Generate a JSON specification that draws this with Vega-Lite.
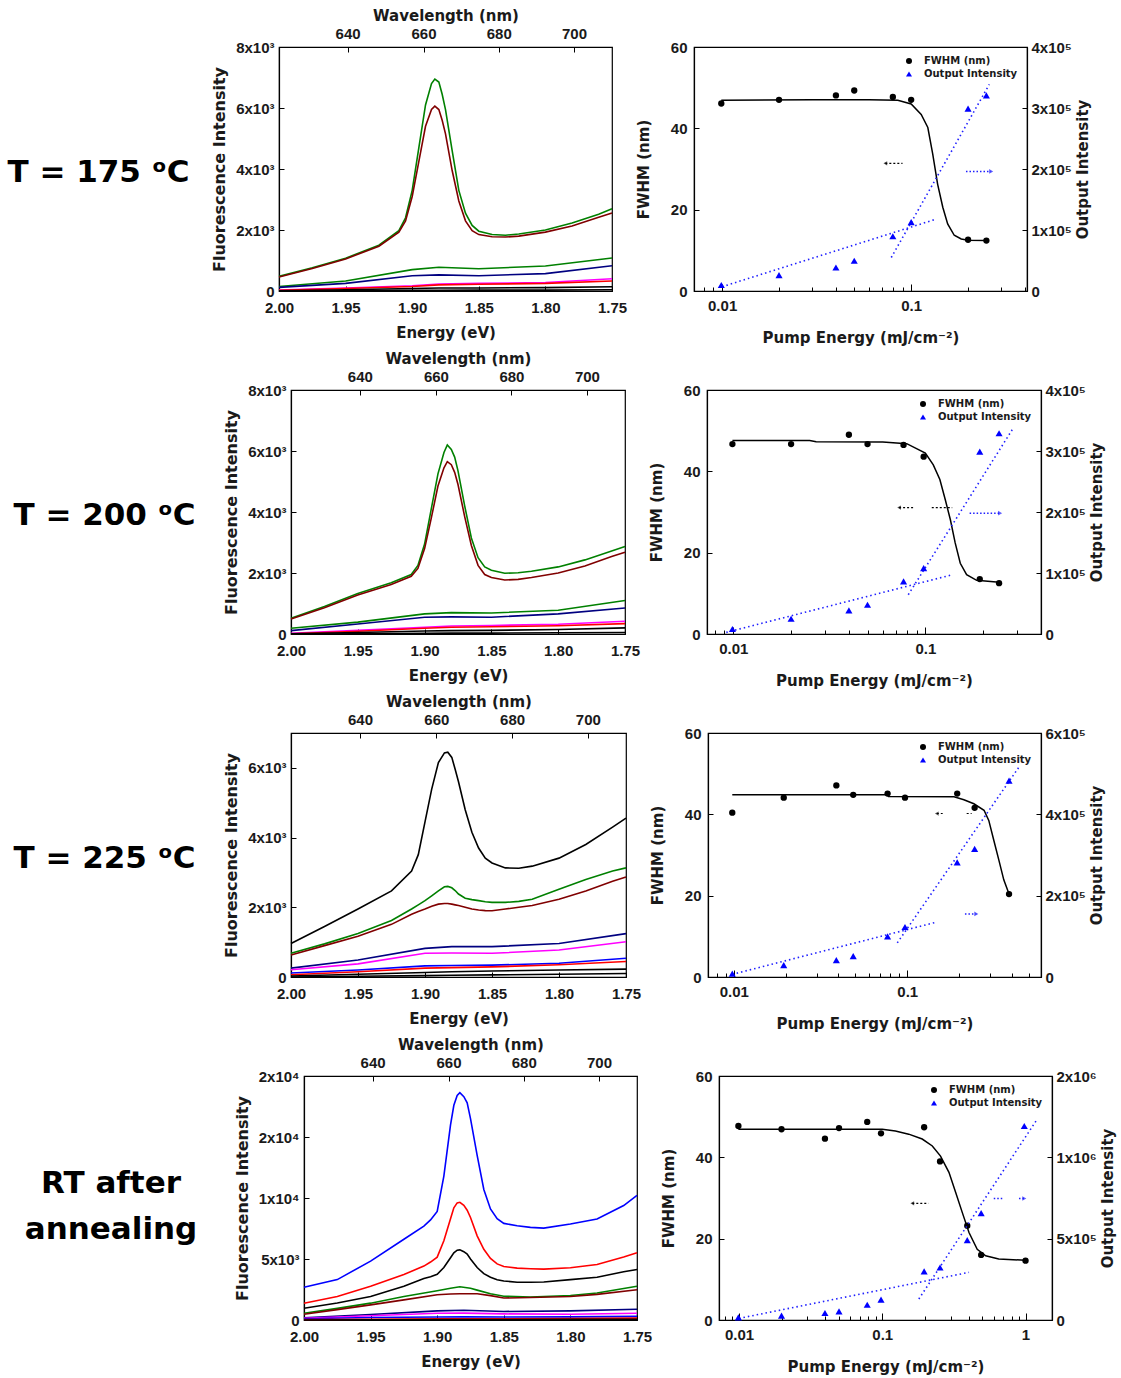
{
 "$schema": "https://vega.github.io/schema/vega-lite/v6.json",
 "padding": {"left": 0, "top": 7, "right": 0, "bottom": 0},
 "background": "white",
 "spacing": 4,
 "resolve": {"scale": {"color": "independent", "shape": "independent"}},
 "datasets": {
  "s1": [
   {"c":"g1","E":2.0,"I":480},{"c":"g1","E":1.975,"I":760},{"c":"g1","E":1.95,"I":1075},{"c":"g1","E":1.925,"I":1500},{"c":"g1","E":1.91,"I":1980},{"c":"g1","E":1.905,"I":2400},{"c":"g1","E":1.9,"I":3300},{"c":"g1","E":1.895,"I":4700},{"c":"g1","E":1.89,"I":6100},{"c":"g1","E":1.8855,"I":6800},{"c":"g1","E":1.883,"I":6950},{"c":"g1","E":1.88,"I":6850},{"c":"g1","E":1.8775,"I":6450},{"c":"g1","E":1.875,"I":5950},{"c":"g1","E":1.87,"I":4600},{"c":"g1","E":1.865,"I":3300},{"c":"g1","E":1.86,"I":2550},{"c":"g1","E":1.855,"I":2150},{"c":"g1","E":1.85,"I":1960},{"c":"g1","E":1.84,"I":1850},{"c":"g1","E":1.83,"I":1830},{"c":"g1","E":1.82,"I":1870},{"c":"g1","E":1.8,"I":2000},{"c":"g1","E":1.78,"I":2230},{"c":"g1","E":1.76,"I":2520},{"c":"g1","E":1.75,"I":2700},
   {"c":"w1","E":2.0,"I":460},{"c":"w1","E":1.975,"I":740},{"c":"w1","E":1.95,"I":1050},{"c":"w1","E":1.925,"I":1470},{"c":"w1","E":1.91,"I":1930},{"c":"w1","E":1.905,"I":2300},{"c":"w1","E":1.9,"I":3100},{"c":"w1","E":1.895,"I":4250},{"c":"w1","E":1.89,"I":5400},{"c":"w1","E":1.8855,"I":5950},{"c":"w1","E":1.883,"I":6060},{"c":"w1","E":1.88,"I":5950},{"c":"w1","E":1.8775,"I":5600},{"c":"w1","E":1.875,"I":5150},{"c":"w1","E":1.87,"I":3950},{"c":"w1","E":1.865,"I":2950},{"c":"w1","E":1.86,"I":2300},{"c":"w1","E":1.855,"I":1980},{"c":"w1","E":1.85,"I":1850},{"c":"w1","E":1.84,"I":1780},{"c":"w1","E":1.83,"I":1770},{"c":"w1","E":1.82,"I":1800},{"c":"w1","E":1.8,"I":1930},{"c":"w1","E":1.78,"I":2130},{"c":"w1","E":1.76,"I":2420},{"c":"w1","E":1.75,"I":2560},
   {"c":"g2","E":2.0,"I":150},{"c":"g2","E":1.95,"I":330},{"c":"g2","E":1.9,"I":700},{"c":"g2","E":1.88,"I":780},{"c":"g2","E":1.85,"I":730},{"c":"g2","E":1.8,"I":820},{"c":"g2","E":1.75,"I":1080},
   {"c":"n","E":2.0,"I":120},{"c":"n","E":1.95,"I":250},{"c":"n","E":1.9,"I":500},{"c":"n","E":1.88,"I":530},{"c":"n","E":1.85,"I":500},{"c":"n","E":1.8,"I":570},{"c":"n","E":1.75,"I":830},
   {"c":"m","E":2.0,"I":30},{"c":"m","E":1.95,"I":100},{"c":"m","E":1.9,"I":170},{"c":"m","E":1.88,"I":230},{"c":"m","E":1.85,"I":250},{"c":"m","E":1.8,"I":280},{"c":"m","E":1.75,"I":400},
   {"c":"r","E":2.0,"I":20},{"c":"r","E":1.95,"I":80},{"c":"r","E":1.9,"I":150},{"c":"r","E":1.88,"I":200},{"c":"r","E":1.85,"I":220},{"c":"r","E":1.8,"I":250},{"c":"r","E":1.75,"I":330},
   {"c":"k1","E":2.0,"I":10},{"c":"k1","E":1.95,"I":40},{"c":"k1","E":1.9,"I":80},{"c":"k1","E":1.88,"I":100},{"c":"k1","E":1.85,"I":100},{"c":"k1","E":1.8,"I":110},{"c":"k1","E":1.75,"I":140},
   {"c":"k2","E":2.0,"I":0},{"c":"k2","E":1.95,"I":10},{"c":"k2","E":1.9,"I":20},{"c":"k2","E":1.88,"I":20},{"c":"k2","E":1.85,"I":30},{"c":"k2","E":1.8,"I":30},{"c":"k2","E":1.75,"I":40}
  ],
  "s2": [
   {"c":"g1","E":2.0,"I":520},{"c":"g1","E":1.975,"I":900},{"c":"g1","E":1.95,"I":1330},{"c":"g1","E":1.925,"I":1680},{"c":"g1","E":1.91,"I":1950},{"c":"g1","E":1.905,"I":2250},{"c":"g1","E":1.9,"I":2950},{"c":"g1","E":1.895,"I":4100},{"c":"g1","E":1.89,"I":5250},{"c":"g1","E":1.8855,"I":5950},{"c":"g1","E":1.883,"I":6200},{"c":"g1","E":1.88,"I":6050},{"c":"g1","E":1.8775,"I":5800},{"c":"g1","E":1.875,"I":5350},{"c":"g1","E":1.87,"I":4200},{"c":"g1","E":1.865,"I":3150},{"c":"g1","E":1.86,"I":2500},{"c":"g1","E":1.855,"I":2200},{"c":"g1","E":1.85,"I":2090},{"c":"g1","E":1.84,"I":1990},{"c":"g1","E":1.83,"I":2010},{"c":"g1","E":1.82,"I":2060},{"c":"g1","E":1.8,"I":2200},{"c":"g1","E":1.78,"I":2430},{"c":"g1","E":1.76,"I":2720},{"c":"g1","E":1.75,"I":2870},
   {"c":"w1","E":2.0,"I":490},{"c":"w1","E":1.975,"I":860},{"c":"w1","E":1.95,"I":1280},{"c":"w1","E":1.925,"I":1620},{"c":"w1","E":1.91,"I":1890},{"c":"w1","E":1.905,"I":2150},{"c":"w1","E":1.9,"I":2800},{"c":"w1","E":1.895,"I":3800},{"c":"w1","E":1.89,"I":4850},{"c":"w1","E":1.8855,"I":5450},{"c":"w1","E":1.883,"I":5650},{"c":"w1","E":1.88,"I":5550},{"c":"w1","E":1.8775,"I":5300},{"c":"w1","E":1.875,"I":4900},{"c":"w1","E":1.87,"I":3850},{"c":"w1","E":1.865,"I":2900},{"c":"w1","E":1.86,"I":2250},{"c":"w1","E":1.855,"I":1950},{"c":"w1","E":1.85,"I":1850},{"c":"w1","E":1.84,"I":1770},{"c":"w1","E":1.83,"I":1790},{"c":"w1","E":1.82,"I":1850},{"c":"w1","E":1.8,"I":2000},{"c":"w1","E":1.78,"I":2230},{"c":"w1","E":1.76,"I":2540},{"c":"w1","E":1.75,"I":2680},
   {"c":"g2","E":2.0,"I":190},{"c":"g2","E":1.95,"I":390},{"c":"g2","E":1.9,"I":660},{"c":"g2","E":1.88,"I":700},{"c":"g2","E":1.85,"I":690},{"c":"g2","E":1.8,"I":780},{"c":"g2","E":1.75,"I":1100},
   {"c":"n","E":2.0,"I":110},{"c":"n","E":1.95,"I":330},{"c":"n","E":1.9,"I":550},{"c":"n","E":1.88,"I":560},{"c":"n","E":1.85,"I":550},{"c":"n","E":1.8,"I":660},{"c":"n","E":1.75,"I":850},
   {"c":"m","E":2.0,"I":20},{"c":"m","E":1.95,"I":120},{"c":"m","E":1.9,"I":220},{"c":"m","E":1.88,"I":260},{"c":"m","E":1.85,"I":280},{"c":"m","E":1.8,"I":320},{"c":"m","E":1.75,"I":420},
   {"c":"r","E":2.0,"I":10},{"c":"r","E":1.95,"I":90},{"c":"r","E":1.9,"I":190},{"c":"r","E":1.88,"I":220},{"c":"r","E":1.85,"I":240},{"c":"r","E":1.8,"I":270},{"c":"r","E":1.75,"I":340},
   {"c":"k1","E":2.0,"I":10},{"c":"k1","E":1.95,"I":50},{"c":"k1","E":1.9,"I":100},{"c":"k1","E":1.88,"I":110},{"c":"k1","E":1.85,"I":120},{"c":"k1","E":1.8,"I":150},{"c":"k1","E":1.75,"I":200},
   {"c":"k2","E":2.0,"I":0},{"c":"k2","E":1.95,"I":10},{"c":"k2","E":1.9,"I":20},{"c":"k2","E":1.88,"I":30},{"c":"k2","E":1.85,"I":30},{"c":"k2","E":1.8,"I":40},{"c":"k2","E":1.75,"I":50}
  ],
  "s3": [
   {"c":"kh","E":2.0,"I":960},{"c":"kh","E":1.975,"I":1450},{"c":"kh","E":1.95,"I":1950},{"c":"kh","E":1.925,"I":2470},{"c":"kh","E":1.91,"I":3040},{"c":"kh","E":1.905,"I":3510},{"c":"kh","E":1.9,"I":4450},{"c":"kh","E":1.895,"I":5390},{"c":"kh","E":1.89,"I":6150},{"c":"kh","E":1.8855,"I":6430},{"c":"kh","E":1.883,"I":6450},{"c":"kh","E":1.88,"I":6300},{"c":"kh","E":1.8775,"I":5960},{"c":"kh","E":1.875,"I":5600},{"c":"kh","E":1.87,"I":4800},{"c":"kh","E":1.865,"I":4150},{"c":"kh","E":1.86,"I":3700},{"c":"kh","E":1.855,"I":3410},{"c":"kh","E":1.85,"I":3270},{"c":"kh","E":1.84,"I":3130},{"c":"kh","E":1.83,"I":3120},{"c":"kh","E":1.82,"I":3180},{"c":"kh","E":1.8,"I":3410},{"c":"kh","E":1.78,"I":3800},{"c":"kh","E":1.76,"I":4300},{"c":"kh","E":1.75,"I":4560},
   {"c":"g1","E":2.0,"I":680},{"c":"g1","E":1.975,"I":950},{"c":"g1","E":1.95,"I":1245},{"c":"g1","E":1.925,"I":1620},{"c":"g1","E":1.91,"I":1950},{"c":"g1","E":1.905,"I":2070},{"c":"g1","E":1.9,"I":2190},{"c":"g1","E":1.895,"I":2330},{"c":"g1","E":1.89,"I":2470},{"c":"g1","E":1.8855,"I":2590},{"c":"g1","E":1.883,"I":2600},{"c":"g1","E":1.88,"I":2560},{"c":"g1","E":1.8775,"I":2480},{"c":"g1","E":1.875,"I":2380},{"c":"g1","E":1.87,"I":2260},{"c":"g1","E":1.865,"I":2220},{"c":"g1","E":1.86,"I":2190},{"c":"g1","E":1.855,"I":2160},{"c":"g1","E":1.85,"I":2140},{"c":"g1","E":1.84,"I":2140},{"c":"g1","E":1.83,"I":2170},{"c":"g1","E":1.82,"I":2230},{"c":"g1","E":1.8,"I":2520},{"c":"g1","E":1.78,"I":2800},{"c":"g1","E":1.76,"I":3040},{"c":"g1","E":1.75,"I":3130},
   {"c":"w1","E":2.0,"I":630},{"c":"w1","E":1.975,"I":900},{"c":"w1","E":1.95,"I":1170},{"c":"w1","E":1.925,"I":1510},{"c":"w1","E":1.91,"I":1800},{"c":"w1","E":1.905,"I":1880},{"c":"w1","E":1.9,"I":1950},{"c":"w1","E":1.895,"I":2030},{"c":"w1","E":1.89,"I":2090},{"c":"w1","E":1.8855,"I":2110},{"c":"w1","E":1.883,"I":2110},{"c":"w1","E":1.88,"I":2090},{"c":"w1","E":1.8775,"I":2070},{"c":"w1","E":1.875,"I":2050},{"c":"w1","E":1.87,"I":2000},{"c":"w1","E":1.865,"I":1950},{"c":"w1","E":1.86,"I":1920},{"c":"w1","E":1.855,"I":1905},{"c":"w1","E":1.85,"I":1900},{"c":"w1","E":1.84,"I":1950},{"c":"w1","E":1.83,"I":2000},{"c":"w1","E":1.82,"I":2050},{"c":"w1","E":1.8,"I":2230},{"c":"w1","E":1.78,"I":2470},{"c":"w1","E":1.76,"I":2750},{"c":"w1","E":1.75,"I":2870},
   {"c":"n","E":2.0,"I":255},{"c":"n","E":1.95,"I":490},{"c":"n","E":1.9,"I":820},{"c":"n","E":1.88,"I":870},{"c":"n","E":1.85,"I":870},{"c":"n","E":1.8,"I":960},{"c":"n","E":1.75,"I":1245},
   {"c":"m","E":2.0,"I":207},{"c":"m","E":1.95,"I":377},{"c":"m","E":1.9,"I":680},{"c":"m","E":1.88,"I":690},{"c":"m","E":1.85,"I":680},{"c":"m","E":1.8,"I":773},{"c":"m","E":1.75,"I":1010},
   {"c":"b","E":2.0,"I":113},{"c":"b","E":1.95,"I":200},{"c":"b","E":1.9,"I":320},{"c":"b","E":1.88,"I":330},{"c":"b","E":1.85,"I":340},{"c":"b","E":1.8,"I":396},{"c":"b","E":1.75,"I":537},
   {"c":"r","E":2.0,"I":66},{"c":"r","E":1.95,"I":150},{"c":"r","E":1.9,"I":255},{"c":"r","E":1.88,"I":270},{"c":"r","E":1.85,"I":290},{"c":"r","E":1.8,"I":350},{"c":"r","E":1.75,"I":443},
   {"c":"k1","E":2.0,"I":30},{"c":"k1","E":1.95,"I":80},{"c":"k1","E":1.9,"I":130},{"c":"k1","E":1.88,"I":150},{"c":"k1","E":1.85,"I":170},{"c":"k1","E":1.8,"I":200},{"c":"k1","E":1.75,"I":226},
   {"c":"k2","E":2.0,"I":0},{"c":"k2","E":1.95,"I":20},{"c":"k2","E":1.9,"I":40},{"c":"k2","E":1.88,"I":50},{"c":"k2","E":1.85,"I":60},{"c":"k2","E":1.8,"I":80},{"c":"k2","E":1.75,"I":100}
  ],
  "s4": [
   {"c":"b1","E":2.0,"I":2680},{"c":"b1","E":1.975,"I":3310},{"c":"b1","E":1.95,"I":4830},{"c":"b1","E":1.925,"I":6620},{"c":"b1","E":1.91,"I":7700},{"c":"b1","E":1.905,"I":8200},{"c":"b1","E":1.9,"I":8900},{"c":"b1","E":1.895,"I":11800},{"c":"b1","E":1.89,"I":16000},{"c":"b1","E":1.8875,"I":17600},{"c":"b1","E":1.885,"I":18400},{"c":"b1","E":1.883,"I":18630},{"c":"b1","E":1.88,"I":18300},{"c":"b1","E":1.8775,"I":17800},{"c":"b1","E":1.875,"I":16500},{"c":"b1","E":1.87,"I":13500},{"c":"b1","E":1.865,"I":10700},{"c":"b1","E":1.86,"I":9100},{"c":"b1","E":1.855,"I":8300},{"c":"b1","E":1.85,"I":7920},{"c":"b1","E":1.84,"I":7730},{"c":"b1","E":1.83,"I":7590},{"c":"b1","E":1.82,"I":7530},{"c":"b1","E":1.8,"I":7870},{"c":"b1","E":1.78,"I":8280},{"c":"b1","E":1.76,"I":9380},{"c":"b1","E":1.75,"I":10210},
   {"c":"r1","E":2.0,"I":1380},{"c":"r1","E":1.975,"I":1930},{"c":"r1","E":1.95,"I":2760},{"c":"r1","E":1.925,"I":3730},{"c":"r1","E":1.91,"I":4420},{"c":"r1","E":1.905,"I":4750},{"c":"r1","E":1.9,"I":5150},{"c":"r1","E":1.895,"I":6500},{"c":"r1","E":1.89,"I":8300},{"c":"r1","E":1.8875,"I":9200},{"c":"r1","E":1.885,"I":9600},{"c":"r1","E":1.883,"I":9650},{"c":"r1","E":1.88,"I":9400},{"c":"r1","E":1.8775,"I":9000},{"c":"r1","E":1.875,"I":8400},{"c":"r1","E":1.87,"I":6900},{"c":"r1","E":1.865,"I":5800},{"c":"r1","E":1.86,"I":5050},{"c":"r1","E":1.855,"I":4600},{"c":"r1","E":1.85,"I":4380},{"c":"r1","E":1.84,"I":4250},{"c":"r1","E":1.83,"I":4200},{"c":"r1","E":1.82,"I":4170},{"c":"r1","E":1.8,"I":4280},{"c":"r1","E":1.78,"I":4550},{"c":"r1","E":1.76,"I":5160},{"c":"r1","E":1.75,"I":5520},
   {"c":"k1","E":2.0,"I":970},{"c":"k1","E":1.975,"I":1400},{"c":"k1","E":1.95,"I":1930},{"c":"k1","E":1.925,"I":2760},{"c":"k1","E":1.91,"I":3400},{"c":"k1","E":1.905,"I":3550},{"c":"k1","E":1.9,"I":3750},{"c":"k1","E":1.895,"I":4300},{"c":"k1","E":1.89,"I":5100},{"c":"k1","E":1.8875,"I":5500},{"c":"k1","E":1.885,"I":5720},{"c":"k1","E":1.883,"I":5750},{"c":"k1","E":1.88,"I":5600},{"c":"k1","E":1.8775,"I":5400},{"c":"k1","E":1.875,"I":5000},{"c":"k1","E":1.87,"I":4300},{"c":"k1","E":1.865,"I":3800},{"c":"k1","E":1.86,"I":3500},{"c":"k1","E":1.855,"I":3300},{"c":"k1","E":1.85,"I":3200},{"c":"k1","E":1.84,"I":3100},{"c":"k1","E":1.83,"I":3090},{"c":"k1","E":1.82,"I":3120},{"c":"k1","E":1.8,"I":3310},{"c":"k1","E":1.78,"I":3500},{"c":"k1","E":1.76,"I":3950},{"c":"k1","E":1.75,"I":4140},
   {"c":"g1","E":2.0,"I":550},{"c":"g1","E":1.975,"I":950},{"c":"g1","E":1.95,"I":1380},{"c":"g1","E":1.925,"I":1930},{"c":"g1","E":1.9,"I":2400},{"c":"g1","E":1.89,"I":2600},{"c":"g1","E":1.883,"I":2720},{"c":"g1","E":1.875,"I":2600},{"c":"g1","E":1.87,"I":2450},{"c":"g1","E":1.86,"I":2150},{"c":"g1","E":1.85,"I":1950},{"c":"g1","E":1.83,"I":1880},{"c":"g1","E":1.8,"I":2010},{"c":"g1","E":1.78,"I":2210},{"c":"g1","E":1.75,"I":2760},
   {"c":"w1","E":2.0,"I":470},{"c":"w1","E":1.975,"I":850},{"c":"w1","E":1.95,"I":1240},{"c":"w1","E":1.925,"I":1650},{"c":"w1","E":1.9,"I":2070},{"c":"w1","E":1.89,"I":2130},{"c":"w1","E":1.883,"I":2150},{"c":"w1","E":1.875,"I":2150},{"c":"w1","E":1.87,"I":2150},{"c":"w1","E":1.86,"I":2000},{"c":"w1","E":1.85,"I":1800},{"c":"w1","E":1.83,"I":1850},{"c":"w1","E":1.8,"I":1930},{"c":"w1","E":1.78,"I":2100},{"c":"w1","E":1.75,"I":2480},
   {"c":"n","E":2.0,"I":190},{"c":"n","E":1.95,"I":450},{"c":"n","E":1.9,"I":745},{"c":"n","E":1.88,"I":800},{"c":"n","E":1.85,"I":700},{"c":"n","E":1.8,"I":745},{"c":"n","E":1.75,"I":880},
   {"c":"m","E":2.0,"I":140},{"c":"m","E":1.95,"I":350},{"c":"m","E":1.9,"I":550},{"c":"m","E":1.88,"I":560},{"c":"m","E":1.85,"I":500},{"c":"m","E":1.8,"I":470},{"c":"m","E":1.75,"I":550},
   {"c":"b2","E":2.0,"I":100},{"c":"b2","E":1.95,"I":200},{"c":"b2","E":1.9,"I":250},{"c":"b2","E":1.88,"I":260},{"c":"b2","E":1.85,"I":250},{"c":"b2","E":1.8,"I":260},{"c":"b2","E":1.75,"I":300},
   {"c":"r2","E":2.0,"I":30},{"c":"r2","E":1.95,"I":60},{"c":"r2","E":1.9,"I":90},{"c":"r2","E":1.88,"I":100},{"c":"r2","E":1.85,"I":100},{"c":"r2","E":1.8,"I":110},{"c":"r2","E":1.75,"I":150},
   {"c":"k2","E":2.0,"I":0},{"c":"k2","E":1.95,"I":20},{"c":"k2","E":1.9,"I":40},{"c":"k2","E":1.88,"I":40},{"c":"k2","E":1.85,"I":40},{"c":"k2","E":1.8,"I":50},{"c":"k2","E":1.75,"I":60}
  ],
  "p1": [
   {"k":"FWHM (nm)","E":0.0099,"v":46.1},{"k":"FWHM (nm)","E":0.02,"v":47.0},{"k":"FWHM (nm)","E":0.04,"v":48.1},{"k":"FWHM (nm)","E":0.05,"v":49.3},{"k":"FWHM (nm)","E":0.08,"v":47.7},{"k":"FWHM (nm)","E":0.1,"v":47.0},{"k":"FWHM (nm)","E":0.2,"v":12.6},{"k":"FWHM (nm)","E":0.25,"v":12.4},
   {"k":"fit","E":0.0099,"v":46.9},{"k":"fit","E":0.03,"v":47.0},{"k":"fit","E":0.06,"v":47.0},{"k":"fit","E":0.085,"v":46.9},{"k":"fit","E":0.1,"v":46.0},{"k":"fit","E":0.113,"v":43.4},{"k":"fit","E":0.1225,"v":40.2},{"k":"fit","E":0.13,"v":33.7},{"k":"fit","E":0.138,"v":26.3},{"k":"fit","E":0.147,"v":20.6},{"k":"fit","E":0.156,"v":16.5},{"k":"fit","E":0.169,"v":13.7},{"k":"fit","E":0.184,"v":12.8},{"k":"fit","E":0.2,"v":12.5},{"k":"fit","E":0.25,"v":12.4},
   {"k":"Output Intensity","E":0.0099,"v":9800},{"k":"Output Intensity","E":0.02,"v":26000},{"k":"Output Intensity","E":0.04,"v":38600},{"k":"Output Intensity","E":0.05,"v":49500},{"k":"Output Intensity","E":0.08,"v":89700},{"k":"Output Intensity","E":0.1,"v":113000},{"k":"Output Intensity","E":0.2,"v":299000},{"k":"Output Intensity","E":0.25,"v":320700},
   {"k":"l1","E":0.01,"v":7000},{"k":"l1","E":0.133,"v":117000},
   {"k":"l2","E":0.0785,"v":54900},{"k":"l2","E":0.259,"v":338600},
   {"k":"al","E":0.073,"v":31.4},{"k":"al","E":0.09,"v":31.4},{"k":"alh","E":0.073,"v":31.4},
   {"k":"ar","E":0.195,"v":196000},{"k":"ar","E":0.265,"v":196000},{"k":"arh","E":0.265,"v":196000}
  ],
  "p2": [
   {"k":"FWHM (nm)","E":0.0099,"v":46.7},{"k":"FWHM (nm)","E":0.02,"v":46.7},{"k":"FWHM (nm)","E":0.04,"v":49.0},{"k":"FWHM (nm)","E":0.05,"v":46.7},{"k":"FWHM (nm)","E":0.077,"v":46.5},{"k":"FWHM (nm)","E":0.098,"v":43.6},{"k":"FWHM (nm)","E":0.192,"v":13.5},{"k":"FWHM (nm)","E":0.242,"v":12.5},
   {"k":"fit","E":0.0099,"v":47.6},{"k":"fit","E":0.025,"v":47.6},{"k":"fit","E":0.027,"v":47.3},{"k":"fit","E":0.06,"v":47.2},{"k":"fit","E":0.08,"v":46.8},{"k":"fit","E":0.1,"v":44.5},{"k":"fit","E":0.11,"v":41.6},{"k":"fit","E":0.119,"v":38.0},{"k":"fit","E":0.127,"v":33.0},{"k":"fit","E":0.135,"v":28.1},{"k":"fit","E":0.143,"v":22.4},{"k":"fit","E":0.152,"v":17.4},{"k":"fit","E":0.164,"v":14.6},{"k":"fit","E":0.185,"v":13.2},{"k":"fit","E":0.242,"v":12.7},
   {"k":"Output Intensity","E":0.0099,"v":8200},{"k":"Output Intensity","E":0.02,"v":25100},{"k":"Output Intensity","E":0.04,"v":38700},{"k":"Output Intensity","E":0.05,"v":48000},{"k":"Output Intensity","E":0.077,"v":86200},{"k":"Output Intensity","E":0.098,"v":108000},{"k":"Output Intensity","E":0.192,"v":299000},{"k":"Output Intensity","E":0.242,"v":329000},
   {"k":"l1","E":0.0092,"v":2700},{"k":"l1","E":0.138,"v":97100},
   {"k":"l2","E":0.0815,"v":64400},{"k":"l2","E":0.286,"v":337000},
   {"k":"al","E":0.073,"v":31.1},{"k":"al","E":0.087,"v":31.1},{"k":"al2","E":0.108,"v":31.1},{"k":"al2","E":0.138,"v":31.1},{"k":"alh","E":0.073,"v":31.1},
   {"k":"ar","E":0.17,"v":198000},{"k":"ar","E":0.245,"v":198000},{"k":"arh","E":0.245,"v":198000}
  ],
  "p3": [
   {"k":"FWHM (nm)","E":0.0098,"v":40.4},{"k":"FWHM (nm)","E":0.0194,"v":44.1},{"k":"FWHM (nm)","E":0.039,"v":47.1},{"k":"FWHM (nm)","E":0.0488,"v":44.8},{"k":"FWHM (nm)","E":0.077,"v":45.1},{"k":"FWHM (nm)","E":0.097,"v":44.1},{"k":"FWHM (nm)","E":0.194,"v":45.1},{"k":"FWHM (nm)","E":0.2445,"v":41.6},{"k":"FWHM (nm)","E":0.386,"v":20.4},
   {"k":"fit","E":0.0098,"v":44.8},{"k":"fit","E":0.077,"v":44.8},{"k":"fit","E":0.078,"v":44.4},{"k":"fit","E":0.186,"v":44.3},{"k":"fit","E":0.212,"v":43.6},{"k":"fit","E":0.242,"v":42.6},{"k":"fit","E":0.277,"v":41.0},{"k":"fit","E":0.295,"v":38.5},{"k":"fit","E":0.315,"v":33.7},{"k":"fit","E":0.337,"v":28.8},{"k":"fit","E":0.36,"v":23.9},{"k":"fit","E":0.386,"v":20.4},
   {"k":"Output Intensity","E":0.0098,"v":8150},{"k":"Output Intensity","E":0.0194,"v":29300},{"k":"Output Intensity","E":0.039,"v":41600},{"k":"Output Intensity","E":0.0488,"v":51400},{"k":"Output Intensity","E":0.077,"v":100000},{"k":"Output Intensity","E":0.097,"v":123000},{"k":"Output Intensity","E":0.194,"v":282000},{"k":"Output Intensity","E":0.2445,"v":315000},{"k":"Output Intensity","E":0.386,"v":483000},
   {"k":"l1","E":0.0098,"v":6500},{"k":"l1","E":0.146,"v":134500},
   {"k":"l2","E":0.0876,"v":84000},{"k":"l2","E":0.44,"v":516000},
   {"k":"al","E":0.148,"v":40.2},{"k":"al","E":0.16,"v":40.2},{"k":"al2","E":0.22,"v":40.2},{"k":"al2","E":0.235,"v":40.2},{"k":"alh","E":0.148,"v":40.2},
   {"k":"ar","E":0.215,"v":155000},{"k":"ar","E":0.25,"v":155000},{"k":"arh","E":0.25,"v":155000}
  ],
  "p4": [
   {"k":"FWHM (nm)","E":0.0099,"v":47.7},{"k":"FWHM (nm)","E":0.0198,"v":46.9},{"k":"FWHM (nm)","E":0.0398,"v":44.6},{"k":"FWHM (nm)","E":0.0499,"v":47.2},{"k":"FWHM (nm)","E":0.0785,"v":48.7},{"k":"FWHM (nm)","E":0.098,"v":45.9},{"k":"FWHM (nm)","E":0.196,"v":47.4},{"k":"FWHM (nm)","E":0.253,"v":39.0},{"k":"FWHM (nm)","E":0.392,"v":23.2},{"k":"FWHM (nm)","E":0.49,"v":16.0},{"k":"FWHM (nm)","E":1.0,"v":14.6},
   {"k":"fit","E":0.0099,"v":46.9},{"k":"fit","E":0.1,"v":46.9},{"k":"fit","E":0.1235,"v":46.5},{"k":"fit","E":0.153,"v":45.7},{"k":"fit","E":0.19,"v":44.5},{"k":"fit","E":0.2235,"v":42.8},{"k":"fit","E":0.255,"v":40.3},{"k":"fit","E":0.292,"v":36.3},{"k":"fit","E":0.325,"v":31.4},{"k":"fit","E":0.362,"v":26.4},{"k":"fit","E":0.403,"v":21.5},{"k":"fit","E":0.46,"v":17.4},{"k":"fit","E":0.527,"v":15.8},{"k":"fit","E":0.65,"v":15.0},{"k":"fit","E":1.0,"v":14.7},
   {"k":"Output Intensity","E":0.0099,"v":16000},{"k":"Output Intensity","E":0.0198,"v":26600},{"k":"Output Intensity","E":0.0398,"v":43000},{"k":"Output Intensity","E":0.0499,"v":53200},{"k":"Output Intensity","E":0.0785,"v":94000},{"k":"Output Intensity","E":0.098,"v":125000},{"k":"Output Intensity","E":0.196,"v":299000},{"k":"Output Intensity","E":0.253,"v":323000},{"k":"Output Intensity","E":0.392,"v":491000},{"k":"Output Intensity","E":0.49,"v":657000},{"k":"Output Intensity","E":0.98,"v":1193000},
   {"k":"l1","E":0.01,"v":10000},{"k":"l1","E":0.403,"v":293000},
   {"k":"l2","E":0.18,"v":129000},{"k":"l2","E":1.205,"v":1234000},
   {"k":"al","E":0.162,"v":28.7},{"k":"al","E":0.21,"v":28.7},{"k":"alh","E":0.162,"v":28.7},
   {"k":"ar","E":0.6,"v":747000},{"k":"ar","E":0.7,"v":747000},{"k":"ar2","E":0.9,"v":747000},{"k":"ar2","E":0.98,"v":747000},{"k":"arh","E":0.98,"v":747000}
  ]
 },
 "vconcat": [
  {"hconcat": [
   {"width": 197, "height": 244, "view": {"stroke": null},
    "data": {"values": [{"t": "T = 175 ᵒC"}]},
    "mark": {"type": "text", "font": "DejaVu Sans", "fontWeight": "bold", "fontSize": 31, "align": "center", "baseline": "middle", "dy": 4, "color": "black"},
    "encoding": {"text": {"field": "t"}}},
   {"width": 333, "height": 244, "data": {"name": "s1"},
    "layer": [
     {"mark": {"type": "line", "strokeWidth": 1.6},
      "encoding": {
       "x": {"field": "E", "type": "quantitative", "scale": {"domain": [2.0, 1.75], "nice": false, "zero": false}, "axis": {"orient": "bottom", "values": [2.0, 1.95, 1.9, 1.85, 1.8, 1.75], "format": ".2f", "title": "Energy (eV)", "labelPadding": 14, "titlePadding": 10}},
       "y": {"field": "I", "type": "quantitative", "scale": {"domain": [0, 8000], "nice": false}, "axis": {"values": [0, 2000, 4000, 6000, 8000], "labelExpr": "datum.value == 0 ? '0' : (datum.value/1000) + 'x10³'", "title": "Fluorescence Intensity", "titleFontSize": 16, "labelPadding": 10, "titlePadding": 8}},
       "color": {"field": "c", "type": "nominal", "scale": {"domain": ["k2", "k1", "r", "m", "n", "g2", "w1", "g1"], "range": ["#000000", "#000000", "#ff0000", "#ff00ff", "#000080", "#008000", "#800000", "#008000"]}, "legend": null}}},
     {"mark": {"type": "point", "opacity": 0},
      "encoding": {"x": {"field": "E", "type": "quantitative", "scale": {"domain": [2.0, 1.75], "nice": false, "zero": false}, "axis": {"orient": "top", "values": [1.9485, 1.8915, 1.835, 1.7785], "labelExpr": "datum.value > 1.92 ? '640' : datum.value > 1.86 ? '660' : datum.value > 1.8 ? '680' : '700'", "title": "Wavelength (nm)", "titlePadding": 3, "labelPadding": 11}}}}
    ],
    "resolve": {"axis": {"x": "independent"}}},
   {"width": 333, "height": 244, "data": {"name": "p1"},
    "encoding": {"x": {"field": "E", "type": "quantitative", "scale": {"type": "log", "domain": [0.0071, 0.41], "nice": false}, "axis": {"values": [0.008, 0.009, 0.01, 0.02, 0.03, 0.04, 0.05, 0.06, 0.07, 0.08, 0.09, 0.1, 0.2, 0.3, 0.4], "labelExpr": "datum.value == 0.01 ? '0.01' : datum.value == 0.1 ? '0.1' : datum.value == 1 ? '1' : ''", "tickSize": {"condition": {"test": "datum.value == 0.01 || datum.value == 0.1 || datum.value == 1", "value": -7}, "value": -4}, "title": "Pump Energy (mJ/cm⁻²)", "labelPadding": 14, "titlePadding": 14}}},
    "layer": [
     {"encoding": {"y": {"field": "v", "type": "quantitative", "scale": {"domain": [0, 60], "nice": false}, "axis": {"orient": "left", "values": [0, 20, 40, 60], "title": "FWHM (nm)", "labelPadding": 12, "titlePadding": 19}}},
      "layer": [
       {"transform": [{"filter": "datum.k == 'fit'"}], "mark": {"type": "line", "color": "black", "strokeWidth": 1.5}},
       {"transform": [{"filter": "datum.k == 'al' || datum.k == 'al2'"}], "mark": {"type": "line", "color": "black", "strokeWidth": 1.2, "strokeDash": [2, 2]}, "encoding": {"detail": {"field": "k"}}},
       {"transform": [{"filter": "datum.k == 'alh'"}], "mark": {"type": "point", "shape": "triangle-left", "filled": true, "color": "black", "size": 18}},
       {"transform": [{"filter": "datum.k == 'FWHM (nm)'"}], "mark": {"type": "point", "filled": true, "opacity": 1, "size": 40},
        "encoding": {"color": {"field": "k", "type": "nominal", "scale": {"domain": ["FWHM (nm)", "Output Intensity"], "range": ["#000000", "#0000ff"]}, "legend": {"title": null}},
                     "shape": {"field": "k", "type": "nominal", "scale": {"domain": ["FWHM (nm)", "Output Intensity"], "range": ["circle", "triangle-up"]}, "legend": {"title": null}}}}
      ]},
     {"encoding": {"y": {"field": "v", "type": "quantitative", "scale": {"domain": [0, 400000], "nice": false}, "axis": {"orient": "right", "values": [0, 100000, 200000, 300000, 400000], "labelExpr": "datum.value == 0 ? '0' : (datum.value/100000) + 'x10⁵'", "title": "Output Intensity", "titleAngle": 270, "titleBaseline": "top", "labelPadding": 9, "titlePadding": 4}}},
      "layer": [
       {"transform": [{"filter": "datum.k == 'l1' || datum.k == 'l2'"}], "mark": {"type": "line", "color": "#1f1fff", "strokeWidth": 1.6, "strokeDash": [1.5, 3]}, "encoding": {"detail": {"field": "k"}}},
       {"transform": [{"filter": "datum.k == 'ar' || datum.k == 'ar2'"}], "mark": {"type": "line", "color": "#1f1fff", "strokeWidth": 1.6, "strokeDash": [1.5, 2]}, "encoding": {"detail": {"field": "k"}}},
       {"transform": [{"filter": "datum.k == 'arh'"}], "mark": {"type": "point", "shape": "triangle-right", "filled": true, "color": "#1f1fff", "size": 22}},
       {"transform": [{"filter": "datum.k == 'Output Intensity'"}], "mark": {"type": "point", "filled": true, "opacity": 1, "size": 50},
        "encoding": {"color": {"field": "k", "type": "nominal", "scale": {"domain": ["FWHM (nm)", "Output Intensity"], "range": ["#000000", "#0000ff"]}, "legend": {"title": null}},
                     "shape": {"field": "k", "type": "nominal", "scale": {"domain": ["FWHM (nm)", "Output Intensity"], "range": ["circle", "triangle-up"]}, "legend": {"title": null}}}}
      ]}
    ],
    "resolve": {"scale": {"y": "independent"}}}
  ], "bounds": "flush", "spacing": 82, "resolve": {"scale": {"color": "independent", "shape": "independent"}}},

  {"hconcat": [
   {"width": 209, "height": 244, "view": {"stroke": null},
    "data": {"values": [{"t": "T = 200 ᵒC"}]},
    "mark": {"type": "text", "font": "DejaVu Sans", "fontWeight": "bold", "fontSize": 31, "align": "center", "baseline": "middle", "dy": 4, "color": "black"},
    "encoding": {"text": {"field": "t"}}},
   {"width": 334, "height": 244, "data": {"name": "s2"},
    "layer": [
     {"mark": {"type": "line", "strokeWidth": 1.6},
      "encoding": {
       "x": {"field": "E", "type": "quantitative", "scale": {"domain": [2.0, 1.75], "nice": false, "zero": false}, "axis": {"orient": "bottom", "values": [2.0, 1.95, 1.9, 1.85, 1.8, 1.75], "format": ".2f", "title": "Energy (eV)", "labelPadding": 14, "titlePadding": 10}},
       "y": {"field": "I", "type": "quantitative", "scale": {"domain": [0, 8000], "nice": false}, "axis": {"values": [0, 2000, 4000, 6000, 8000], "labelExpr": "datum.value == 0 ? '0' : (datum.value/1000) + 'x10³'", "title": "Fluorescence Intensity", "titleFontSize": 16, "labelPadding": 10, "titlePadding": 8}},
       "color": {"field": "c", "type": "nominal", "scale": {"domain": ["k2", "k1", "r", "m", "n", "g2", "w1", "g1"], "range": ["#000000", "#000000", "#ff0000", "#ff00ff", "#000080", "#008000", "#800000", "#008000"]}, "legend": null}}},
     {"mark": {"type": "point", "opacity": 0},
      "encoding": {"x": {"field": "E", "type": "quantitative", "scale": {"domain": [2.0, 1.75], "nice": false, "zero": false}, "axis": {"orient": "top", "values": [1.9485, 1.8915, 1.835, 1.7785], "labelExpr": "datum.value > 1.92 ? '640' : datum.value > 1.86 ? '660' : datum.value > 1.8 ? '680' : '700'", "title": "Wavelength (nm)", "titlePadding": 3, "labelPadding": 11}}}}
    ],
    "resolve": {"axis": {"x": "independent"}}},
   {"width": 334, "height": 244, "data": {"name": "p2"},
    "encoding": {"x": {"field": "E", "type": "quantitative", "scale": {"type": "log", "domain": [0.0073, 0.4], "nice": false}, "axis": {"values": [0.008, 0.009, 0.01, 0.02, 0.03, 0.04, 0.05, 0.06, 0.07, 0.08, 0.09, 0.1, 0.2, 0.3, 0.4], "labelExpr": "datum.value == 0.01 ? '0.01' : datum.value == 0.1 ? '0.1' : datum.value == 1 ? '1' : ''", "tickSize": {"condition": {"test": "datum.value == 0.01 || datum.value == 0.1 || datum.value == 1", "value": -7}, "value": -4}, "title": "Pump Energy (mJ/cm⁻²)", "labelPadding": 14, "titlePadding": 14}}},
    "layer": [
     {"encoding": {"y": {"field": "v", "type": "quantitative", "scale": {"domain": [0, 60], "nice": false}, "axis": {"orient": "left", "values": [0, 20, 40, 60], "title": "FWHM (nm)", "labelPadding": 12, "titlePadding": 19}}},
      "layer": [
       {"transform": [{"filter": "datum.k == 'fit'"}], "mark": {"type": "line", "color": "black", "strokeWidth": 1.5}},
       {"transform": [{"filter": "datum.k == 'al' || datum.k == 'al2'"}], "mark": {"type": "line", "color": "black", "strokeWidth": 1.2, "strokeDash": [2, 2]}, "encoding": {"detail": {"field": "k"}}},
       {"transform": [{"filter": "datum.k == 'alh'"}], "mark": {"type": "point", "shape": "triangle-left", "filled": true, "color": "black", "size": 18}},
       {"transform": [{"filter": "datum.k == 'FWHM (nm)'"}], "mark": {"type": "point", "filled": true, "opacity": 1, "size": 40},
        "encoding": {"color": {"field": "k", "type": "nominal", "scale": {"domain": ["FWHM (nm)", "Output Intensity"], "range": ["#000000", "#0000ff"]}, "legend": {"title": null}},
                     "shape": {"field": "k", "type": "nominal", "scale": {"domain": ["FWHM (nm)", "Output Intensity"], "range": ["circle", "triangle-up"]}, "legend": {"title": null}}}}
      ]},
     {"encoding": {"y": {"field": "v", "type": "quantitative", "scale": {"domain": [0, 400000], "nice": false}, "axis": {"orient": "right", "values": [0, 100000, 200000, 300000, 400000], "labelExpr": "datum.value == 0 ? '0' : (datum.value/100000) + 'x10⁵'", "title": "Output Intensity", "titleAngle": 270, "titleBaseline": "top", "labelPadding": 9, "titlePadding": 4}}},
      "layer": [
       {"transform": [{"filter": "datum.k == 'l1' || datum.k == 'l2'"}], "mark": {"type": "line", "color": "#1f1fff", "strokeWidth": 1.6, "strokeDash": [1.5, 3]}, "encoding": {"detail": {"field": "k"}}},
       {"transform": [{"filter": "datum.k == 'ar' || datum.k == 'ar2'"}], "mark": {"type": "line", "color": "#1f1fff", "strokeWidth": 1.6, "strokeDash": [1.5, 2]}, "encoding": {"detail": {"field": "k"}}},
       {"transform": [{"filter": "datum.k == 'arh'"}], "mark": {"type": "point", "shape": "triangle-right", "filled": true, "color": "#1f1fff", "size": 22}},
       {"transform": [{"filter": "datum.k == 'Output Intensity'"}], "mark": {"type": "point", "filled": true, "opacity": 1, "size": 50},
        "encoding": {"color": {"field": "k", "type": "nominal", "scale": {"domain": ["FWHM (nm)", "Output Intensity"], "range": ["#000000", "#0000ff"]}, "legend": {"title": null}},
                     "shape": {"field": "k", "type": "nominal", "scale": {"domain": ["FWHM (nm)", "Output Intensity"], "range": ["circle", "triangle-up"]}, "legend": {"title": null}}}}
      ]}
    ],
    "resolve": {"scale": {"y": "independent"}}}
  ], "bounds": "flush", "spacing": 82, "resolve": {"scale": {"color": "independent", "shape": "independent"}}},

  {"hconcat": [
   {"width": 209, "height": 244, "view": {"stroke": null},
    "data": {"values": [{"t": "T = 225 ᵒC"}]},
    "mark": {"type": "text", "font": "DejaVu Sans", "fontWeight": "bold", "fontSize": 31, "align": "center", "baseline": "middle", "dy": 4, "color": "black"},
    "encoding": {"text": {"field": "t"}}},
   {"width": 335, "height": 244, "data": {"name": "s3"},
    "layer": [
     {"mark": {"type": "line", "strokeWidth": 1.6},
      "encoding": {
       "x": {"field": "E", "type": "quantitative", "scale": {"domain": [2.0, 1.75], "nice": false, "zero": false}, "axis": {"orient": "bottom", "values": [2.0, 1.95, 1.9, 1.85, 1.8, 1.75], "format": ".2f", "title": "Energy (eV)", "labelPadding": 14, "titlePadding": 10}},
       "y": {"field": "I", "type": "quantitative", "scale": {"domain": [0, 7000], "nice": false}, "axis": {"values": [0, 2000, 4000, 6000], "labelExpr": "datum.value == 0 ? '0' : (datum.value/1000) + 'x10³'", "title": "Fluorescence Intensity", "titleFontSize": 16, "labelPadding": 10, "titlePadding": 8}},
       "color": {"field": "c", "type": "nominal", "scale": {"domain": ["k2", "k1", "r", "b", "m", "n", "w1", "g1", "kh"], "range": ["#000000", "#000000", "#ff0000", "#0000ff", "#ff00ff", "#000080", "#800000", "#008000", "#000000"]}, "legend": null}}},
     {"mark": {"type": "point", "opacity": 0},
      "encoding": {"x": {"field": "E", "type": "quantitative", "scale": {"domain": [2.0, 1.75], "nice": false, "zero": false}, "axis": {"orient": "top", "values": [1.9485, 1.8915, 1.835, 1.7785], "labelExpr": "datum.value > 1.92 ? '640' : datum.value > 1.86 ? '660' : datum.value > 1.8 ? '680' : '700'", "title": "Wavelength (nm)", "titlePadding": 3, "labelPadding": 11}}}}
    ],
    "resolve": {"axis": {"x": "independent"}}},
   {"width": 333, "height": 244, "data": {"name": "p3"},
    "encoding": {"x": {"field": "E", "type": "quantitative", "scale": {"type": "log", "domain": [0.0071, 0.59], "nice": false}, "axis": {"values": [0.008, 0.009, 0.01, 0.02, 0.03, 0.04, 0.05, 0.06, 0.07, 0.08, 0.09, 0.1, 0.2, 0.3, 0.4, 0.5], "labelExpr": "datum.value == 0.01 ? '0.01' : datum.value == 0.1 ? '0.1' : datum.value == 1 ? '1' : ''", "tickSize": {"condition": {"test": "datum.value == 0.01 || datum.value == 0.1 || datum.value == 1", "value": -7}, "value": -4}, "title": "Pump Energy (mJ/cm⁻²)", "labelPadding": 14, "titlePadding": 14}}},
    "layer": [
     {"encoding": {"y": {"field": "v", "type": "quantitative", "scale": {"domain": [0, 60], "nice": false}, "axis": {"orient": "left", "values": [0, 20, 40, 60], "title": "FWHM (nm)", "labelPadding": 12, "titlePadding": 19}}},
      "layer": [
       {"transform": [{"filter": "datum.k == 'fit'"}], "mark": {"type": "line", "color": "black", "strokeWidth": 1.5}},
       {"transform": [{"filter": "datum.k == 'al' || datum.k == 'al2'"}], "mark": {"type": "line", "color": "black", "strokeWidth": 1.2, "strokeDash": [2, 2]}, "encoding": {"detail": {"field": "k"}}},
       {"transform": [{"filter": "datum.k == 'alh'"}], "mark": {"type": "point", "shape": "triangle-left", "filled": true, "color": "black", "size": 18}},
       {"transform": [{"filter": "datum.k == 'FWHM (nm)'"}], "mark": {"type": "point", "filled": true, "opacity": 1, "size": 40},
        "encoding": {"color": {"field": "k", "type": "nominal", "scale": {"domain": ["FWHM (nm)", "Output Intensity"], "range": ["#000000", "#0000ff"]}, "legend": {"title": null}},
                     "shape": {"field": "k", "type": "nominal", "scale": {"domain": ["FWHM (nm)", "Output Intensity"], "range": ["circle", "triangle-up"]}, "legend": {"title": null}}}}
      ]},
     {"encoding": {"y": {"field": "v", "type": "quantitative", "scale": {"domain": [0, 600000], "nice": false}, "axis": {"orient": "right", "values": [0, 200000, 400000, 600000], "labelExpr": "datum.value == 0 ? '0' : (datum.value/100000) + 'x10⁵'", "title": "Output Intensity", "titleAngle": 270, "titleBaseline": "top", "labelPadding": 9, "titlePadding": 4}}},
      "layer": [
       {"transform": [{"filter": "datum.k == 'l1' || datum.k == 'l2'"}], "mark": {"type": "line", "color": "#1f1fff", "strokeWidth": 1.6, "strokeDash": [1.5, 3]}, "encoding": {"detail": {"field": "k"}}},
       {"transform": [{"filter": "datum.k == 'ar' || datum.k == 'ar2'"}], "mark": {"type": "line", "color": "#1f1fff", "strokeWidth": 1.6, "strokeDash": [1.5, 2]}, "encoding": {"detail": {"field": "k"}}},
       {"transform": [{"filter": "datum.k == 'arh'"}], "mark": {"type": "point", "shape": "triangle-right", "filled": true, "color": "#1f1fff", "size": 22}},
       {"transform": [{"filter": "datum.k == 'Output Intensity'"}], "mark": {"type": "point", "filled": true, "opacity": 1, "size": 50},
        "encoding": {"color": {"field": "k", "type": "nominal", "scale": {"domain": ["FWHM (nm)", "Output Intensity"], "range": ["#000000", "#0000ff"]}, "legend": {"title": null}},
                     "shape": {"field": "k", "type": "nominal", "scale": {"domain": ["FWHM (nm)", "Output Intensity"], "range": ["circle", "triangle-up"]}, "legend": {"title": null}}}}
      ]}
    ],
    "resolve": {"scale": {"y": "independent"}}}
  ], "bounds": "flush", "spacing": 82, "resolve": {"scale": {"color": "independent", "shape": "independent"}}},

  {"hconcat": [
   {"width": 222, "height": 244, "view": {"stroke": null},
    "data": {"values": [{"t": "RT after\nannealing"}]},
    "mark": {"type": "text", "font": "DejaVu Sans", "fontWeight": "bold", "fontSize": 31, "align": "center", "baseline": "middle", "dy": -14, "lineBreak": "\n", "lineHeight": 46, "color": "black"},
    "encoding": {"text": {"field": "t"}}},
   {"width": 333, "height": 244, "data": {"name": "s4"},
    "layer": [
     {"mark": {"type": "line", "strokeWidth": 1.6},
      "encoding": {
       "x": {"field": "E", "type": "quantitative", "scale": {"domain": [2.0, 1.75], "nice": false, "zero": false}, "axis": {"orient": "bottom", "values": [2.0, 1.95, 1.9, 1.85, 1.8, 1.75], "format": ".2f", "title": "Energy (eV)", "labelPadding": 14, "titlePadding": 10}},
       "y": {"field": "I", "type": "quantitative", "scale": {"domain": [0, 20000], "nice": false}, "axis": {"values": [0, 5000, 10000, 15000, 20000], "labelExpr": "datum.value == 0 ? '0' : datum.value == 5000 ? '5x10³' : datum.value == 10000 ? '1x10⁴' : '2x10⁴'", "title": "Fluorescence Intensity", "titleFontSize": 16, "labelPadding": 10, "titlePadding": 8}},
       "color": {"field": "c", "type": "nominal", "scale": {"domain": ["k2", "r2", "b2", "m", "n", "w1", "g1", "k1", "r1", "b1"], "range": ["#000000", "#ff0000", "#0000ff", "#ff00ff", "#000080", "#800000", "#008000", "#000000", "#ff0000", "#0000ff"]}, "legend": null}}},
     {"mark": {"type": "point", "opacity": 0},
      "encoding": {"x": {"field": "E", "type": "quantitative", "scale": {"domain": [2.0, 1.75], "nice": false, "zero": false}, "axis": {"orient": "top", "values": [1.9485, 1.8915, 1.835, 1.7785], "labelExpr": "datum.value > 1.92 ? '640' : datum.value > 1.86 ? '660' : datum.value > 1.8 ? '680' : '700'", "title": "Wavelength (nm)", "titlePadding": 3, "labelPadding": 11}}}}
    ],
    "resolve": {"axis": {"x": "independent"}}},
   {"width": 333, "height": 244, "data": {"name": "p4"},
    "encoding": {"x": {"field": "E", "type": "quantitative", "scale": {"type": "log", "domain": [0.00725, 1.53], "nice": false}, "axis": {"values": [0.008, 0.009, 0.01, 0.02, 0.03, 0.04, 0.05, 0.06, 0.07, 0.08, 0.09, 0.1, 0.2, 0.3, 0.4, 0.5, 0.6, 0.7, 0.8, 0.9, 1], "labelExpr": "datum.value == 0.01 ? '0.01' : datum.value == 0.1 ? '0.1' : datum.value == 1 ? '1' : ''", "tickSize": {"condition": {"test": "datum.value == 0.01 || datum.value == 0.1 || datum.value == 1", "value": -7}, "value": -4}, "title": "Pump Energy (mJ/cm⁻²)", "labelPadding": 14, "titlePadding": 14}}},
    "layer": [
     {"encoding": {"y": {"field": "v", "type": "quantitative", "scale": {"domain": [0, 60], "nice": false}, "axis": {"orient": "left", "values": [0, 20, 40, 60], "title": "FWHM (nm)", "labelPadding": 12, "titlePadding": 19}}},
      "layer": [
       {"transform": [{"filter": "datum.k == 'fit'"}], "mark": {"type": "line", "color": "black", "strokeWidth": 1.5}},
       {"transform": [{"filter": "datum.k == 'al' || datum.k == 'al2'"}], "mark": {"type": "line", "color": "black", "strokeWidth": 1.2, "strokeDash": [2, 2]}, "encoding": {"detail": {"field": "k"}}},
       {"transform": [{"filter": "datum.k == 'alh'"}], "mark": {"type": "point", "shape": "triangle-left", "filled": true, "color": "black", "size": 18}},
       {"transform": [{"filter": "datum.k == 'FWHM (nm)'"}], "mark": {"type": "point", "filled": true, "opacity": 1, "size": 40},
        "encoding": {"color": {"field": "k", "type": "nominal", "scale": {"domain": ["FWHM (nm)", "Output Intensity"], "range": ["#000000", "#0000ff"]}, "legend": {"title": null}},
                     "shape": {"field": "k", "type": "nominal", "scale": {"domain": ["FWHM (nm)", "Output Intensity"], "range": ["circle", "triangle-up"]}, "legend": {"title": null}}}}
      ]},
     {"encoding": {"y": {"field": "v", "type": "quantitative", "scale": {"domain": [0, 1500000], "nice": false}, "axis": {"orient": "right", "values": [0, 500000, 1000000, 1500000], "labelExpr": "datum.value == 0 ? '0' : datum.value == 500000 ? '5x10⁵' : datum.value == 1000000 ? '1x10⁶' : '2x10⁶'", "title": "Output Intensity", "titleAngle": 270, "titleBaseline": "top", "labelPadding": 9, "titlePadding": 4}}},
      "layer": [
       {"transform": [{"filter": "datum.k == 'l1' || datum.k == 'l2'"}], "mark": {"type": "line", "color": "#1f1fff", "strokeWidth": 1.6, "strokeDash": [1.5, 3]}, "encoding": {"detail": {"field": "k"}}},
       {"transform": [{"filter": "datum.k == 'ar' || datum.k == 'ar2'"}], "mark": {"type": "line", "color": "#1f1fff", "strokeWidth": 1.6, "strokeDash": [1.5, 2]}, "encoding": {"detail": {"field": "k"}}},
       {"transform": [{"filter": "datum.k == 'arh'"}], "mark": {"type": "point", "shape": "triangle-right", "filled": true, "color": "#1f1fff", "size": 22}},
       {"transform": [{"filter": "datum.k == 'Output Intensity'"}], "mark": {"type": "point", "filled": true, "opacity": 1, "size": 50},
        "encoding": {"color": {"field": "k", "type": "nominal", "scale": {"domain": ["FWHM (nm)", "Output Intensity"], "range": ["#000000", "#0000ff"]}, "legend": {"title": null}},
                     "shape": {"field": "k", "type": "nominal", "scale": {"domain": ["FWHM (nm)", "Output Intensity"], "range": ["circle", "triangle-up"]}, "legend": {"title": null}}}}
      ]}
    ],
    "resolve": {"scale": {"y": "independent"}}}
  ], "bounds": "flush", "spacing": 82, "resolve": {"scale": {"color": "independent", "shape": "independent"}}}
 ],
 "config": {
  "font": "Liberation Sans",
  "view": {"stroke": "#000000", "strokeWidth": 1.2},
  "axis": {"grid": false, "domainColor": "#000000", "domainWidth": 1.2, "tickColor": "#000000", "tickWidth": 1, "tickSize": -5, "labelFont": "Liberation Sans", "labelFontSize": 15, "labelFontWeight": "bold", "labelColor": "#1a1a1a", "labelPadding": 8, "labelFlush": false, "labelOverlap": false, "titleFont": "DejaVu Sans", "titleFontSize": 15, "titleFontWeight": "bold", "titleColor": "#1a1a1a"},
  "legend": {"orient": "top-right", "offset": 7, "labelFont": "DejaVu Sans", "labelFontSize": 10, "labelFontWeight": "bold", "labelColor": "#1a1a1a", "symbolSize": 36, "rowPadding": 3, "padding": 2, "labelOffset": 10, "symbolStrokeWidth": 0}
 }
}
